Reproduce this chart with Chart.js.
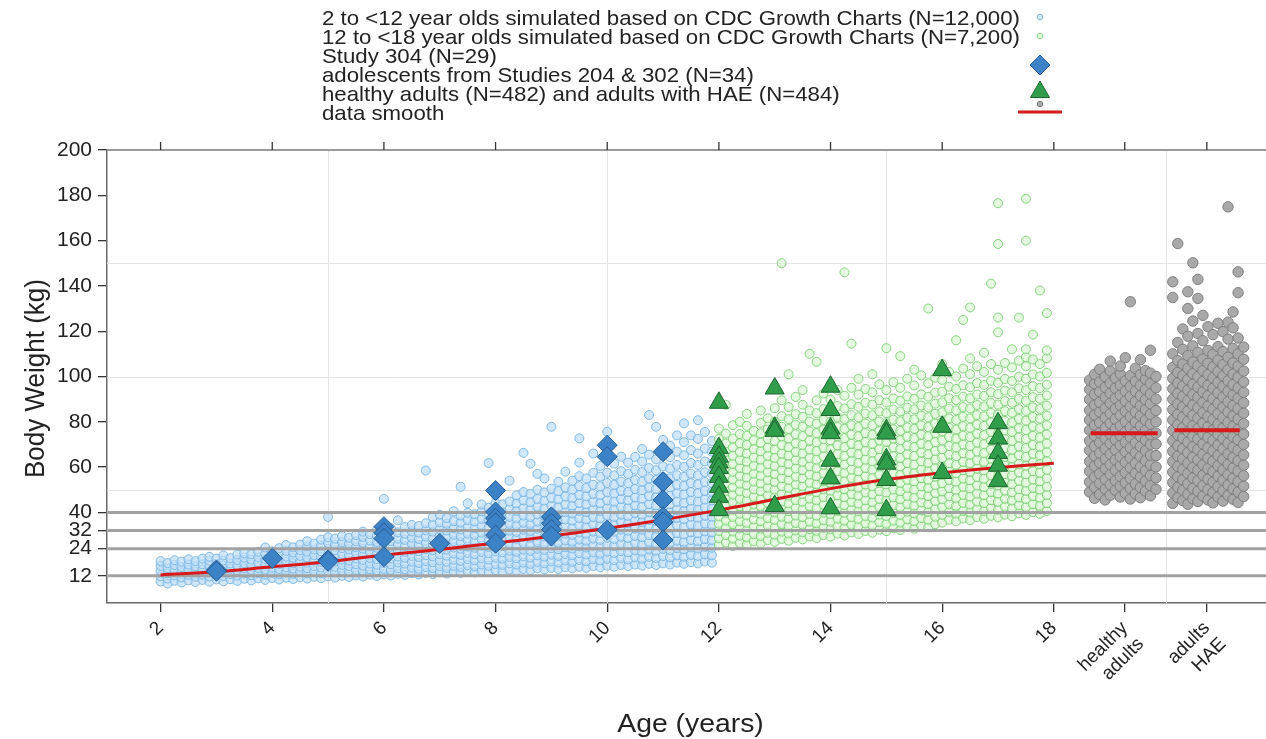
<!DOCTYPE html>
<html>
<head>
<meta charset="utf-8">
<title>Body weight by age</title>
<script src="https://cdn.jsdelivr.net/npm/chart.js@4.4.1/dist/chart.umd.min.js"></script>
<style>
  html, body { margin: 0; padding: 0; background: #ffffff; }
  #wrap { position: relative; width: 1266px; height: 739px; }
</style>
</head>
<body>
<div id="wrap"><canvas id="chart"></canvas></div>
<script>
// ---- axis ticks and guide lines ----
const xTickValues = [2, 4, 6, 8, 10, 12, 14, 16, 18, 19.27, 20.74];
const xTickLabels = ['2', '4', '6', '8', '10', '12', '14', '16', '18', ['healthy', 'adults'], ['adults', 'HAE']];
const yTickValues = [12, 24, 32, 40, 60, 80, 100, 120, 140, 160, 180, 200];
const referenceWeights = [12, 24, 32, 40];
const gridAges = [5, 10, 15, 20];
const gridWeights = [50, 100, 150];

const legendLabels = [
  '2 to <12 year olds simulated based on CDC Growth Charts (N=12,000)',
  '12 to <18 year olds simulated based on CDC Growth Charts (N=7,200)',
  'Study 304 (N=29)',
  'adolescents from Studies 204 & 302 (N=34)',
  'healthy adults (N=482) and adults with HAE (N=484)',
  'data smooth'
];

// ---- simulated children 2 to <12 y: "age  weight weight ..." ----
const childColumns = [
  '2.000 9.5 11.8 14.1 16.4 18.5',
  '2.125 8.6 10.8 13.1 15.4 17.6',
  '2.250 9.8 12.2 14.5 16.8 18.9',
  '2.375 9.1 11.3 13.6 15.9 18.2',
  '2.500 10.0 12.4 14.7 17.0 19.3',
  '2.625 9.3 11.6 13.9 16.2 18.5',
  '2.750 10.2 12.5 14.8 17.1 19.6',
  '2.875 9.4 11.7 14.0 16.3 18.7 20.4',
  '3.000 10.4 12.7 15.0 17.3 19.6',
  '3.125 9.6 11.9 14.2 16.5 18.8 21.0',
  '3.250 10.5 12.8 15.1 17.4 19.8',
  '3.375 9.8 12.1 14.4 16.7 19.0 21.4',
  '3.500 10.7 13.0 15.3 17.6 20.0 22.0',
  '3.625 10.0 12.3 14.6 16.9 19.2 21.5',
  '3.750 10.9 13.2 15.5 17.8 20.2 22.6',
  '3.875 10.2 12.5 14.8 17.1 19.4 21.7 24.5',
  '4.000 11.0 13.3 15.6 17.9 20.3 22.8',
  '4.125 10.4 12.7 15.0 17.3 19.6 22.0 24.2',
  '4.250 11.2 13.5 15.8 18.1 20.5 23.0 25.6',
  '4.375 10.6 12.9 15.2 17.5 19.9 22.3 24.6',
  '4.500 11.4 13.7 16.0 18.4 20.8 23.3 25.8',
  '4.625 10.8 13.1 15.4 17.8 20.2 22.6 25.0 27.3',
  '4.750 11.6 13.9 16.3 18.7 21.1 23.6 26.2',
  '4.875 11.0 13.3 15.7 18.1 20.5 22.9 25.4 28.0',
  '5.000 11.8 14.1 16.5 18.9 21.4 23.9 26.5 29.0 38.0',
  '5.125 11.2 13.6 16.0 18.4 20.8 23.3 25.8 28.4',
  '5.250 12.0 14.4 16.8 19.2 21.7 24.2 26.8 29.5',
  '5.375 11.5 13.9 16.3 18.7 21.2 23.7 26.2 28.8',
  '5.500 12.2 14.6 17.1 19.6 22.1 24.6 27.2 30.0',
  '5.625 11.7 14.1 16.5 19.0 21.5 24.0 26.6 29.2 31.5',
  '5.750 12.5 14.9 17.4 19.9 22.4 25.0 27.6 30.4',
  '5.875 11.9 14.4 16.9 19.4 21.9 24.4 27.0 29.7 32.3',
  '6.000 12.7 15.1 17.6 20.1 22.7 25.3 28.0 30.8 46.0',
  '6.125 12.1 14.6 17.1 19.6 22.2 24.8 27.4 30.1 33.0',
  '6.250 12.9 15.4 17.9 20.5 23.1 25.7 28.4 31.2 36.5',
  '6.375 12.4 14.9 17.4 20.0 22.6 25.2 27.9 30.6 33.5',
  '6.500 13.1 15.6 18.2 20.8 23.4 26.1 28.8 31.6 34.5',
  '6.625 12.6 15.1 17.7 20.3 22.9 25.6 28.3 31.1 34.0',
  '6.750 13.3 15.9 18.5 21.1 23.8 26.5 29.3 32.1 35.2 58.5',
  '6.875 12.8 15.4 18.0 20.6 23.3 26.0 28.7 31.5 34.5 38.0',
  '7.000 13.6 16.2 18.8 21.5 24.2 26.9 29.7 32.6 35.6 39.0',
  '7.125 13.0 15.6 18.2 20.9 23.6 26.3 29.1 32.0 35.0 37.5',
  '7.250 13.8 16.4 19.1 21.8 24.5 27.3 30.1 33.0 36.1 40.5',
  '7.375 13.3 15.9 18.6 21.3 24.0 26.8 29.6 32.5 35.5 38.6 51.3',
  '7.500 14.0 16.7 19.4 22.1 24.9 27.7 30.6 33.5 36.6 39.8 44.0',
  '7.625 13.5 16.2 18.9 21.6 24.4 27.2 30.1 33.0 36.0 39.2',
  '7.750 14.3 17.0 19.7 22.5 25.3 28.1 31.0 34.0 37.1 40.4 43.5',
  '7.875 13.8 16.5 19.2 22.0 24.8 27.6 30.5 33.5 36.6 39.8 42.0 61.8',
  '8.000 14.5 17.2 20.0 22.8 25.6 28.5 31.4 34.4 37.5 40.8 44.2 47.5',
  '8.125 14.0 16.8 19.6 22.4 25.2 28.1 31.0 34.0 37.1 40.3 43.6',
  '8.250 14.8 17.5 20.3 23.1 26.0 28.9 31.9 34.9 38.0 41.3 44.8 54.0',
  '8.375 14.2 17.0 19.8 22.6 25.5 28.4 31.4 34.4 37.5 40.7 44.0 47.5',
  '8.500 15.0 17.8 20.6 23.5 26.4 29.3 32.3 35.4 38.6 41.9 45.3 49.0 66.3',
  '8.625 14.5 17.3 20.1 23.0 25.9 28.8 31.8 34.9 38.0 41.3 44.6 48.2 61.5',
  '8.750 15.3 18.1 21.0 23.9 26.8 29.8 32.8 35.9 39.1 42.4 45.9 50.0 57.0',
  '8.875 14.8 17.6 20.5 23.4 26.3 29.3 32.3 35.4 38.6 41.8 45.2 48.8 55.0',
  '9.000 15.5 18.4 21.3 24.2 27.2 30.2 33.3 36.4 39.6 42.9 46.4 50.5 77.8',
  '9.125 15.0 17.9 20.8 23.7 26.7 29.7 32.8 35.9 39.1 42.4 45.8 49.4 53.5',
  '9.250 15.8 18.7 21.6 24.6 27.6 30.6 33.7 36.9 40.1 43.5 47.0 51.0 58.0',
  '9.375 15.3 18.2 21.1 24.1 27.1 30.1 33.2 36.4 39.6 43.0 46.4 50.1 54.0',
  '9.500 16.0 19.0 22.0 25.0 28.0 31.1 34.2 37.4 40.7 44.1 47.6 51.6 56.0 62.0 72.7',
  '9.625 15.5 18.5 21.5 24.5 27.5 30.6 33.7 36.9 40.2 43.6 47.1 50.8 55.0',
  '9.750 16.3 19.3 22.3 25.3 28.4 31.5 34.7 37.9 41.2 44.6 48.2 52.2 57.5 66.0',
  '9.875 15.8 18.8 21.8 24.8 27.9 31.0 34.2 37.4 40.7 44.1 47.7 51.5 55.8 60.5',
  '10.000 16.5 19.5 22.6 25.7 28.8 32.0 35.2 38.5 41.8 45.3 48.9 53.0 57.5 75.6',
  '10.125 16.0 19.0 22.1 25.2 28.3 31.5 34.7 38.0 41.3 44.8 48.4 52.2 56.4 61.5',
  '10.250 16.8 19.8 22.9 26.0 29.2 32.4 35.7 39.0 42.4 45.9 49.5 53.6 58.2 64.6',
  '10.375 16.3 19.3 22.4 25.5 28.7 31.9 35.2 38.5 41.9 45.4 49.0 52.9 57.0 62.0',
  '10.500 17.0 20.1 23.2 26.4 29.6 32.9 36.2 39.6 43.0 46.6 50.3 54.3 58.8 64.5',
  '10.625 16.5 19.6 22.7 25.9 29.1 32.4 35.7 39.1 42.5 46.1 49.8 53.6 57.8 62.5 68.0',
  '10.750 17.3 20.4 23.6 26.8 30.0 33.3 36.7 40.1 43.6 47.2 50.9 55.0 59.6 65.5 83.0',
  '10.875 16.8 19.9 23.1 26.3 29.5 32.8 36.2 39.6 43.1 46.7 50.4 54.3 58.6 63.4 77.8',
  '11.000 17.5 20.7 23.9 27.1 30.4 33.7 37.1 40.6 44.1 47.8 51.6 55.7 60.3 66.0 72.0',
  '11.125 17.0 20.2 23.4 26.6 29.9 33.2 36.6 40.1 43.6 47.3 51.1 55.0 59.4 64.4 69.5',
  '11.250 17.8 21.0 24.2 27.5 30.8 34.2 37.6 41.1 44.7 48.4 52.2 56.4 61.0 66.8 74.0',
  '11.375 17.3 20.5 23.7 27.0 30.3 33.7 37.1 40.6 44.2 47.9 51.7 55.7 60.1 65.2 71.0 79.3',
  '11.500 18.0 21.2 24.5 27.8 31.2 34.6 38.1 41.6 45.2 49.0 52.9 57.1 61.8 67.5 74.0',
  '11.625 17.5 20.8 24.1 27.4 30.8 34.2 37.7 41.2 44.8 48.5 52.4 56.4 60.9 66.0 72.5 80.7',
  '11.750 18.3 21.5 24.8 28.2 31.6 35.0 38.5 42.1 45.7 49.5 53.4 57.7 62.5 68.2 75.5',
  '11.875 17.8 21.1 24.4 27.8 31.2 34.6 38.1 41.7 45.3 49.1 53.0 57.1 61.6 66.8 71.5'
];

// ---- simulated adolescents 12 to <18 y ----
const teenColumns = [
  '12.000 25.5 28.6 31.8 35.0 38.2 41.4 44.6 47.9 51.2 54.5 57.9 61.3 64.8 68.4 72.5 77.0',
  '12.125 26.8 30.0 33.2 36.4 39.6 42.9 46.2 49.5 52.8 56.2 59.6 63.1 66.7 70.4 74.8 87.5',
  '12.250 25.2 28.4 31.6 34.8 38.0 41.2 44.5 47.8 51.1 54.5 57.9 61.4 65.0 68.7 72.6 78.5',
  '12.375 26.5 29.7 32.9 36.1 39.4 42.7 46.0 49.3 52.7 56.1 59.6 63.1 66.7 70.5 74.6 80.0',
  '12.500 25.8 29.0 32.2 35.4 38.7 42.0 45.3 48.6 52.0 55.4 58.9 62.4 66.0 69.8 73.8 78.2 83.5',
  '12.625 27.2 30.4 33.6 36.9 40.2 43.5 46.8 50.2 53.6 57.1 60.6 64.2 67.9 71.8 76.0',
  '12.750 26.4 29.6 32.8 36.1 39.4 42.7 46.0 49.4 52.8 56.2 59.7 63.3 67.0 70.8 74.9 79.5 85.0',
  '12.875 27.8 31.0 34.2 37.5 40.8 44.1 47.5 50.9 54.3 57.8 61.3 64.9 68.6 72.5 76.6 81.5',
  '13.000 27.0 30.2 33.4 36.7 40.0 43.3 46.7 50.1 53.5 57.0 60.5 64.1 67.8 71.6 75.6 80.0 86.0 96.0',
  '13.125 28.3 31.5 34.8 38.1 41.4 44.8 48.2 51.6 55.1 58.6 62.2 65.9 69.7 73.6 77.8 82.5 89.5 150.0',
  '13.250 27.5 30.7 34.0 37.3 40.6 44.0 47.4 50.8 54.3 57.8 61.4 65.1 68.8 72.7 76.8 81.2 86.5 101.0',
  '13.375 28.8 32.0 35.3 38.6 42.0 45.4 48.8 52.3 55.8 59.4 63.0 66.7 70.5 74.5 78.7 83.4 91.0',
  '13.500 28.1 31.3 34.6 37.9 41.3 44.7 48.1 51.6 55.1 58.7 62.3 66.0 69.8 73.7 77.8 82.2 87.5 94.0',
  '13.625 29.4 32.6 35.9 39.3 42.7 46.1 49.6 53.1 56.7 60.3 64.0 67.8 71.7 75.8 80.1 85.0 110.0',
  '13.750 28.7 31.9 35.2 38.6 42.0 45.4 48.9 52.4 56.0 59.6 63.3 67.1 71.0 75.0 79.2 83.8 89.5 106.5',
  '13.875 30.0 33.2 36.5 39.9 43.3 46.7 50.2 53.7 57.3 61.0 64.7 68.5 72.4 76.5 80.8 85.6 92.5',
  '14.000 29.3 32.6 35.9 39.3 42.7 46.1 49.6 53.1 56.7 60.4 64.1 67.9 71.8 75.8 80.0 84.5 89.8 96.5',
  '14.125 30.6 33.9 37.2 40.6 44.0 47.5 51.0 54.6 58.2 61.9 65.7 69.6 73.6 77.7 82.1 87.0 94.0',
  '14.250 29.8 33.1 36.4 39.8 43.2 46.7 50.2 53.8 57.4 61.1 64.9 68.8 72.8 76.9 81.2 85.9 91.5 146.0',
  '14.375 31.2 34.5 37.8 41.2 44.6 48.1 51.6 55.2 58.9 62.6 66.4 70.3 74.3 78.5 82.9 87.8 95.0 114.5',
  '14.500 30.5 33.8 37.1 40.5 43.9 47.4 50.9 54.5 58.2 61.9 65.7 69.6 73.6 77.7 82.0 86.6 92.0 99.0',
  '14.625 31.8 35.1 38.4 41.8 45.3 48.8 52.3 55.9 59.6 63.3 67.1 71.0 75.0 79.2 83.6 88.4 94.5',
  '14.750 31.0 34.3 37.7 41.1 44.5 48.0 51.6 55.2 58.9 62.6 66.4 70.3 74.3 78.5 82.9 87.6 93.0 101.0',
  '14.875 32.4 35.7 39.0 42.4 45.9 49.4 53.0 56.6 60.3 64.1 67.9 71.9 75.9 80.1 84.6 89.5 96.5',
  '15.000 31.7 35.0 38.4 41.8 45.3 48.8 52.4 56.0 59.7 63.5 67.3 71.2 75.2 79.4 83.8 88.5 94.0 112.5',
  '15.125 33.0 36.3 39.7 43.1 46.6 50.1 53.7 57.3 61.0 64.8 68.7 72.6 76.7 80.9 85.4 90.3 97.5',
  '15.250 32.2 35.5 38.9 42.3 45.8 49.4 53.0 56.6 60.3 64.1 68.0 71.9 76.0 80.2 84.6 89.3 95.0 109.0',
  '15.375 33.6 36.9 40.3 43.7 47.2 50.8 54.4 58.0 61.8 65.6 69.5 73.4 77.5 81.8 86.3 91.2 99.0',
  '15.500 32.8 36.2 39.6 43.0 46.5 50.1 53.7 57.4 61.1 64.9 68.8 72.8 76.9 81.1 85.5 90.2 96.0 103.0',
  '15.625 34.2 37.5 40.9 44.4 47.9 51.5 55.1 58.8 62.6 66.4 70.3 74.3 78.4 82.7 87.2 92.1 100.5',
  '15.750 33.4 36.8 40.2 43.7 47.2 50.8 54.4 58.1 61.9 65.7 69.6 73.6 77.7 82.0 86.4 91.1 97.0 130.0',
  '15.875 34.8 38.1 41.5 45.0 48.5 52.1 55.8 59.5 63.3 67.1 71.0 75.0 79.2 83.5 88.0 92.9 99.5',
  '16.000 35.5 38.9 42.3 45.8 49.3 52.9 56.6 60.3 64.1 67.9 71.8 75.8 79.9 84.2 88.6 93.3 98.5 105.5',
  '16.125 36.8 40.2 43.6 47.1 50.7 54.3 57.9 61.7 65.5 69.3 73.3 77.3 81.5 85.8 90.4 95.5 102.0',
  '16.250 36.1 39.5 42.9 46.4 50.0 53.6 57.3 61.0 64.8 68.7 72.6 76.6 80.8 85.1 89.6 94.5 100.0 116.0',
  '16.375 37.3 40.7 44.2 47.7 51.3 54.9 58.6 62.3 66.1 70.0 73.9 78.0 82.2 86.5 91.1 96.1 103.5 125.0',
  '16.500 36.6 40.0 43.5 47.0 50.6 54.2 57.9 61.7 65.5 69.4 73.3 77.4 81.5 85.9 90.4 95.3 101.0 108.0 130.5',
  '16.625 37.9 41.3 44.8 48.3 51.9 55.6 59.3 63.0 66.9 70.8 74.7 78.8 83.0 87.4 92.0 97.1 104.5',
  '16.750 37.2 40.6 44.1 47.6 51.2 54.9 58.6 62.4 66.2 70.1 74.1 78.2 82.4 86.8 91.4 96.3 102.0 110.5',
  '16.875 38.5 41.9 45.4 49.0 52.6 56.3 60.0 63.8 67.7 71.6 75.6 79.7 83.9 88.3 93.0 98.1 105.5 141.0',
  '17.000 37.8 41.2 44.7 48.3 51.9 55.6 59.3 63.1 67.0 70.9 74.9 79.0 83.2 87.6 92.2 97.2 103.0 119.5 126.0 158.5 176.5',
  '17.125 39.0 42.5 46.0 49.6 53.2 56.9 60.7 64.5 68.4 72.3 76.3 80.4 84.7 89.1 93.8 98.9 106.0',
  '17.250 38.3 41.8 45.3 48.9 52.5 56.2 60.0 63.8 67.7 71.6 75.6 79.7 84.0 88.4 93.0 98.0 104.0 112.0',
  '17.375 39.6 43.1 46.6 50.2 53.9 57.6 61.4 65.2 69.1 73.1 77.1 81.3 85.6 90.1 94.8 99.9 107.0 126.0',
  '17.500 38.9 42.4 45.9 49.5 53.2 56.9 60.7 64.5 68.4 72.4 76.4 80.5 84.8 89.3 94.0 99.0 104.5 108.5 112.0 160.0 178.5',
  '17.625 40.1 43.6 47.2 50.8 54.5 58.2 62.0 65.9 69.8 73.8 77.9 82.1 86.4 90.9 95.7 100.9 107.5 118.5',
  '17.750 39.4 42.9 46.5 50.1 53.8 57.5 61.3 65.2 69.1 73.1 77.2 81.4 85.7 90.2 94.9 100.0 105.5 138.0',
  '17.875 40.6 44.1 47.7 51.3 55.0 58.8 62.6 66.5 70.4 74.4 78.5 82.7 87.1 91.6 96.4 101.6 108.0 111.5 128.0'
];

// ---- adults, jittered around their category position ----
const healthyAdultColumns = [
  '18.64 49.0 53.4 58.2 62.5 67.4 71.6 76.3 80.8 85.1 89.9 94.2 98.4',
  '18.73 46.2 51.1 55.6 60.4 64.9 69.2 73.8 78.5 83.0 87.4 92.1 96.8 101.0',
  '18.82 48.0 52.8 57.1 61.9 66.2 70.9 75.1 79.6 84.4 88.6 93.3 97.6 103.2',
  '18.92 45.5 50.3 54.5 59.3 63.6 68.1 72.7 77.2 81.9 86.0 90.8 95.2 99.9',
  '19.01 47.6 52.2 56.8 61.1 65.7 70.4 74.6 79.3 83.6 88.2 92.6 97.1 102.4 106.8',
  '19.10 49.8 54.0 58.6 63.2 67.6 72.1 76.8 81.2 85.7 90.3 94.8 99.3',
  '19.19 46.8 51.5 55.9 60.6 64.6 69.6 73.9 78.2 82.9 87.3 91.7 96.2 101.1 104.6',
  '19.28 48.5 53.1 57.6 62.1 66.8 71.0 75.6 80.1 84.7 89.2 93.6 98.1 108.3',
  '19.37 45.9 50.6 55.0 59.7 64.1 68.6 73.2 77.6 82.3 86.7 91.2 95.6 100.4 133.0',
  '19.46 48.2 52.6 57.3 61.7 66.4 70.7 75.4 79.9 84.3 88.9 93.5 97.9 103.6',
  '19.55 46.5 51.0 55.6 60.0 64.7 69.1 73.6 78.1 82.6 87.1 91.5 96.0 100.8 107.4',
  '19.64 49.4 53.8 58.4 62.9 67.2 71.9 76.2 80.7 85.4 89.7 94.3 98.8 102.6',
  '19.73 47.3 51.9 56.3 61.0 65.3 70.0 74.3 79.0 83.3 88.0 92.3 96.9 101.5 111.6',
  '19.83 50.2 55.2 60.1 65.1 70.2 75.0 80.0 85.0 90.0 95.0 100.0'
];
const haeAdultColumns = [
  '20.13 44.0 48.6 53.2 57.8 62.4 67.0 71.6 76.2 80.8 85.4 90.0 94.6 99.2 104.0 110.0 134.9 141.8',
  '20.22 46.5 51.1 55.7 60.3 64.9 69.5 74.1 78.7 83.3 87.9 92.5 97.1 101.8 107.0 115.0 158.7',
  '20.31 45.2 49.8 54.4 59.0 63.6 68.2 72.8 77.4 82.0 86.6 91.2 95.8 100.5 105.5 112.0 121.0',
  '20.40 43.6 48.0 52.6 57.2 61.8 66.4 71.0 75.6 80.2 84.8 89.4 94.0 98.7 103.6 109.2 117.8 130.0 137.4',
  '20.49 46.0 50.6 55.2 59.8 64.4 69.0 73.6 78.2 82.8 87.4 92.0 96.6 101.3 106.4 113.5 124.5 150.2',
  '20.58 44.8 49.4 54.0 58.6 63.2 67.8 72.4 77.0 81.6 86.2 90.8 95.4 100.0 104.8 110.6 119.0 134.5 142.9',
  '20.67 47.2 51.8 56.4 61.0 65.6 70.2 74.8 79.4 84.0 88.6 93.2 97.8 102.6 107.8 115.8 127.0',
  '20.76 45.5 50.1 54.7 59.3 63.9 68.5 73.1 77.7 82.3 86.9 91.5 96.1 100.8 105.8 111.5 122.0',
  '20.85 44.2 48.8 53.4 58.0 62.6 67.2 71.8 76.4 81.0 85.6 90.2 94.8 99.4 104.2 109.8 118.5',
  '20.94 46.8 51.4 56.0 60.6 65.2 69.8 74.4 79.0 83.6 88.2 92.8 97.4 102.2 107.2 113.2 123.5',
  '21.03 45.0 49.6 54.2 58.8 63.4 68.0 72.6 77.2 81.8 86.4 91.0 95.6 100.3 105.2 111.0 119.8',
  '21.12 47.5 52.1 56.7 61.3 65.9 70.5 75.1 79.7 84.3 88.9 93.5 98.1 103.0 108.5 116.5 124.0 174.9',
  '21.21 45.8 50.4 55.0 59.6 64.2 68.8 73.4 78.0 82.6 87.2 91.8 96.4 101.1 106.0 112.4 121.5 128.5',
  '21.30 44.4 49.0 53.6 58.2 62.8 67.4 72.0 76.6 81.2 85.8 90.4 95.0 99.7 104.6 110.0 117.0 137.0 146.2',
  '21.40 47.0 51.6 56.2 60.8 65.4 70.0 74.6 79.2 83.8 88.4 93.0 97.6 102.4 107.6 113.0'
];

// ---- observed study subjects ----
const study304Ages    = [3, 3, 4, 5, 5, 6, 6, 6, 6, 7, 8, 8, 8, 8, 8, 8, 9, 9, 9, 9, 10, 10, 10, 11, 11, 11, 11, 11, 11];
const study304Weights = [14.6, 14.0, 19.7, 19.0, 18.4, 33.7, 31.0, 28.5, 20.4, 26.3, 49.7, 40.2, 37.4, 35.4, 30.0, 26.4,
                         38.0, 35.2, 32.4, 29.6, 69.7, 64.6, 32.2, 66.8, 53.5, 45.5, 38.0, 35.8, 27.8];

const adolescentAges    = [12, 12, 12, 12, 12, 12, 12, 12, 12, 13, 13, 13, 13, 14, 14, 14, 14, 14, 14, 14,
                           15, 15, 15, 15, 15, 15, 16, 16, 16, 17, 17, 17, 17, 17];
const adolescentWeights = [88.4, 68.4, 64.6, 62.0, 59.6, 55.7, 51.3, 46.9, 41.0, 94.7, 77.4, 76.0, 42.8,
                           95.5, 85.2, 77.0, 75.0, 62.8, 55.0, 41.8, 76.3, 74.8, 63.4, 61.5, 54.3, 41.0,
                           102.8, 77.8, 57.4, 79.4, 72.6, 66.2, 60.6, 53.8];

// ---- smooth through the children and adolescents ----
const smoothAges    = [2, 3, 4, 5, 6, 7, 8, 9, 10, 11, 12, 13, 14, 15, 16, 17, 18];
const smoothWeights = [12.4, 13.8, 16.0, 18.2, 21.2, 23.6, 26.5, 29.5, 33.0, 36.8, 41.0, 45.8, 50.5, 54.5, 57.5, 59.8, 61.7];

// ---- adult medians ----
const healthyMedianAges = [18.66, 19.86];
const healthyMedian = 75.0;
const haeMedianAges = [20.16, 21.33];
const haeMedian = 76.3;

// ---- helpers ----
const byColumn = rows => rows.flatMap(row => {
  const [age, ...weights] = row.trim().split(/\s+/).map(Number);
  return weights.map(w => ({ x: age, y: w }));
});
const pairUp = (xs, ys) => xs.map((x, i) => ({ x, y: ys[i] }));
const flat = (xs, v) => xs.map(x => ({ x, y: v }));

const RED = '#d7191c';
const styles = {
  child: { bg: 'rgba(190,222,246,0.72)', border: 'rgba(118,180,226,0.9)' },
  teen:  { bg: 'rgba(218,246,212,0.72)', border: 'rgba(128,210,120,0.95)' },
  adult: { bg: '#a9a9a9', border: '#7e7e7e' },
  study: { bg: '#3b83c6', border: '#2a5b92' },
  adol:  { bg: '#2f9d49', border: '#1c6630' }
};

const FONT = '"Liberation Sans", Arial, Helvetica, sans-serif';
Chart.defaults.font.family = FONT;
Chart.defaults.color = '#222';

// guide lines, frame, legend and axis titles
const decor = {
  id: 'decor',
  beforeDatasetsDraw(chart) {
    const { ctx, chartArea: a, scales: { x, y } } = chart;
    ctx.save();
    ctx.strokeStyle = '#e3e3e3';
    ctx.lineWidth = 1;
    gridAges.forEach(v => {
      const px = Math.round(x.getPixelForValue(v)) + 0.5;
      ctx.beginPath(); ctx.moveTo(px, a.top); ctx.lineTo(px, a.bottom); ctx.stroke();
    });
    gridWeights.forEach(v => {
      const py = Math.round(y.getPixelForValue(v)) + 0.5;
      ctx.beginPath(); ctx.moveTo(a.left, py); ctx.lineTo(a.right, py); ctx.stroke();
    });
    ctx.restore();
  },
  afterDatasetDraw(chart, args) {
    if (chart.data.datasets[args.index].key !== 'teen') return;
    const { ctx, chartArea: a, scales: { y } } = chart;
    ctx.save();
    ctx.strokeStyle = '#a2a2a2';
    ctx.lineWidth = 3;
    referenceWeights.forEach(v => {
      const py = y.getPixelForValue(v);
      ctx.beginPath(); ctx.moveTo(a.left + 1, py); ctx.lineTo(a.right, py); ctx.stroke();
    });
    ctx.restore();
  },
  afterDraw(chart) {
    const { ctx, chartArea: a, scales: { x } } = chart;
    ctx.save();
    // top frame line with outward tick marks
    ctx.strokeStyle = '#9a9a9a';
    ctx.lineWidth = 2;
    ctx.beginPath(); ctx.moveTo(a.left, a.top); ctx.lineTo(a.right, a.top); ctx.stroke();
    ctx.strokeStyle = '#333';
    ctx.lineWidth = 1.3;
    xTickValues.forEach(v => {
      const px = x.getPixelForValue(v);
      ctx.beginPath(); ctx.moveTo(px, a.top); ctx.lineTo(px, a.top - 8); ctx.stroke();
    });

    // legend: text on the left, key symbols in a column on the right
    const textX = 322, base = 24.5, step = 19, keyX = 1040;
    const keyY = [17, 36, 65, 92, 104, 112];
    ctx.fillStyle = '#222';
    ctx.textBaseline = 'alphabetic';
    ctx.textAlign = 'left';
    ctx.font = '20.4px ' + FONT;
    legendLabels.forEach((t, i) => {
      ctx.save();
      ctx.translate(textX, base + i * step);
      ctx.scale(1.09, 1);
      ctx.fillText(t, 0, 0);
      ctx.restore();
    });
    const dot = (cy, r, s) => {
      ctx.beginPath(); ctx.arc(keyX, cy, r, 0, Math.PI * 2);
      ctx.fillStyle = s.bg; ctx.fill();
      ctx.lineWidth = 1; ctx.strokeStyle = s.border; ctx.stroke();
    };
    dot(keyY[0], 2.8, styles.child);
    dot(keyY[1], 2.8, styles.teen);
    // diamond
    ctx.beginPath();
    ctx.moveTo(keyX, keyY[2] - 10); ctx.lineTo(keyX + 10, keyY[2]);
    ctx.lineTo(keyX, keyY[2] + 10); ctx.lineTo(keyX - 10, keyY[2]); ctx.closePath();
    ctx.fillStyle = styles.study.bg; ctx.fill(); ctx.strokeStyle = styles.study.border; ctx.stroke();
    // triangle
    const r = 11;
    ctx.beginPath();
    ctx.moveTo(keyX, keyY[3] - r);
    ctx.lineTo(keyX + r * Math.sin(2 * Math.PI / 3), keyY[3] + r / 2);
    ctx.lineTo(keyX - r * Math.sin(2 * Math.PI / 3), keyY[3] + r / 2);
    ctx.closePath();
    ctx.fillStyle = styles.adol.bg; ctx.fill(); ctx.strokeStyle = styles.adol.border; ctx.stroke();
    dot(keyY[4], 2.8, styles.adult);
    ctx.strokeStyle = RED; ctx.lineWidth = 3;
    ctx.beginPath(); ctx.moveTo(keyX - 22, keyY[5]); ctx.lineTo(keyX + 22, keyY[5]); ctx.stroke();

    // axis titles
    ctx.fillStyle = '#222';
    ctx.textAlign = 'center';
    ctx.textBaseline = 'alphabetic';
    ctx.font = '26px ' + FONT;
    ctx.save();
    ctx.translate((a.left + a.right) / 2 + 4, 732);
    ctx.scale(1.09, 1);
    ctx.fillText('Age (years)', 0, 0);
    ctx.restore();
    ctx.save();
    ctx.font = '26px ' + FONT;
    ctx.translate(44, (a.top + a.bottom) / 2 + 2);
    ctx.scale(1.09, 1);
    ctx.rotate(-Math.PI / 2);
    ctx.fillText('Body Weight (kg)', 0, 0);
    ctx.restore();
    ctx.restore();
  }
};

const cloud = (key, label, data, s, r, order) => ({
  key, label, data, order,
  pointRadius: r, pointHoverRadius: r,
  backgroundColor: s.bg, borderColor: s.border, borderWidth: 1
});

new Chart(document.getElementById('chart'), {
  type: 'scatter',
  data: {
    datasets: [
      cloud('child', legendLabels[0], byColumn(childColumns), styles.child, 4.5, 9),
      cloud('teen', legendLabels[1], byColumn(teenColumns), styles.teen, 4.5, 8),
      cloud('healthy', legendLabels[4], byColumn(healthyAdultColumns), styles.adult, 5.2, 7),
      cloud('hae', legendLabels[4], byColumn(haeAdultColumns), styles.adult, 5.2, 6),
      {
        key: 'smooth', label: legendLabels[5], order: 5,
        data: pairUp(smoothAges, smoothWeights), showLine: true, tension: 0.4,
        pointRadius: 0, borderColor: RED, borderWidth: 3, fill: false
      },
      {
        key: 'medianHealthy', label: legendLabels[5], order: 4,
        data: flat(healthyMedianAges, healthyMedian), showLine: true,
        pointRadius: 0, borderColor: RED, borderWidth: 4, fill: false
      },
      {
        key: 'medianHae', label: legendLabels[5], order: 4,
        data: flat(haeMedianAges, haeMedian), showLine: true,
        pointRadius: 0, borderColor: RED, borderWidth: 4, fill: false
      },
      {
        key: 'study', label: legendLabels[2], order: 3,
        data: pairUp(study304Ages, study304Weights), pointStyle: 'rectRot',
        pointRadius: 10, pointHoverRadius: 10,
        backgroundColor: styles.study.bg, borderColor: styles.study.border, borderWidth: 1
      },
      {
        key: 'adol', label: legendLabels[3], order: 2,
        data: pairUp(adolescentAges, adolescentWeights), pointStyle: 'triangle',
        pointRadius: 11, pointHoverRadius: 11,
        backgroundColor: styles.adol.bg, borderColor: styles.adol.border, borderWidth: 1
      }
    ]
  },
  options: {
    responsive: true,
    maintainAspectRatio: false,
    animation: false,
    events: [],
    layout: { autoPadding: false, padding: { top: 150, right: 0, bottom: 0, left: 0 } },
    plugins: { legend: { display: false }, tooltip: { enabled: false } },
    scales: {
      x: {
        type: 'linear', min: 1.04, max: 21.8,
        afterBuildTicks: s => { s.ticks = xTickValues.map(v => ({ value: v })); },
        afterFit: s => { s.height = 136; s.paddingLeft = 0; s.paddingRight = 0; },
        grid: { drawOnChartArea: false, drawTicks: true, tickLength: 9, color: '#333', lineWidth: 1.3 },
        border: { display: true, color: '#6a6a6a', width: 1.5 },
        ticks: {
          autoSkip: false, maxRotation: 45, minRotation: 45, padding: 5,
          color: '#222', font: { size: 19 },
          callback: (v, i) => xTickLabels[i]
        }
      },
      y: {
        type: 'linear', min: 0, max: 200,
        afterBuildTicks: s => { s.ticks = yTickValues.map(v => ({ value: v })); },
        afterFit: s => { s.width = 107; },
        grid: { drawOnChartArea: false, drawTicks: true, tickLength: 9, color: '#333', lineWidth: 1.3 },
        border: { display: true, color: '#6a6a6a', width: 1.5 },
        ticks: { padding: 6, color: '#222', font: { size: 21 }, callback: v => String(v) }
      }
    }
  },
  plugins: [decor]
});
</script>
</body>
</html>
